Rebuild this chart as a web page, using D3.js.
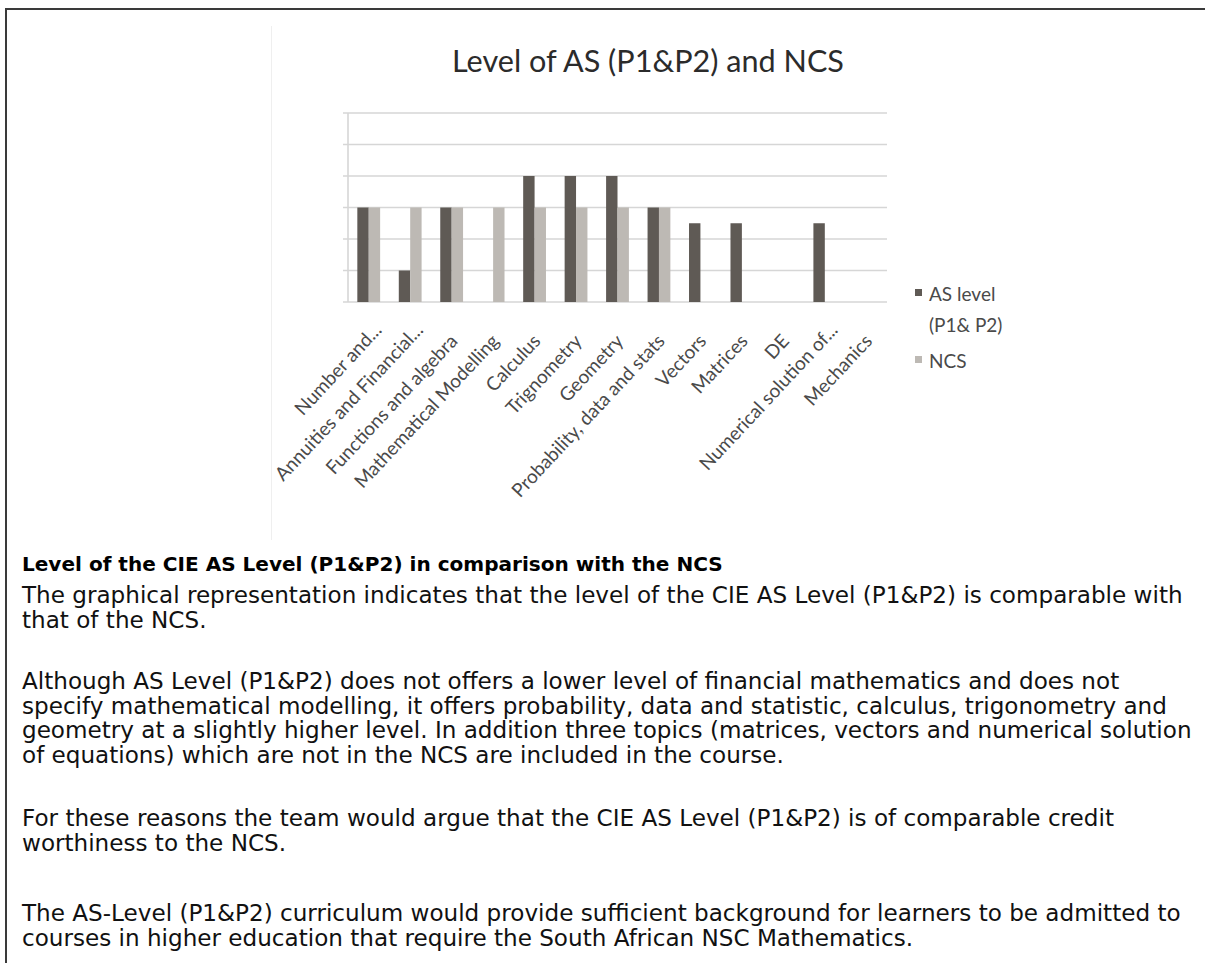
<!DOCTYPE html>
<html>
<head>
<meta charset="utf-8">
<script src="https://cdn.jsdelivr.net/npm/d3@7"></script>
<style>
  body { margin: 0; background: #fff; }
  svg { display: block; }
</style>
</head>
<body>
<script>
// chart data
var topics = ["Number and...", "Annuities and Financial...", "Functions and algebra",
  "Mathematical Modelling", "Calculus", "Trignometry", "Geometry",
  "Probability, data and stats", "Vectors", "Matrices", "DE",
  "Numerical solution of...", "Mechanics"];
var asLevel = [3, 1, 3, 0, 4, 4, 4, 3, 2.5, 2.5, 0, 2.5, 0];
var ncs     = [3, 3, 3, 3, 3, 3, 3, 3, 0, 0, 0, 0, 0];
var yTicks = [0, 1, 2, 3, 4, 5, 6];
var chartTitle = "Level of AS (P1&P2) and NCS";

// text under the chart
var heading = "Level of the CIE AS Level (P1&P2) in comparison with the NCS";
var bodyLines = [
  ["The graphical representation indicates that the level of the CIE AS Level (P1&P2) is comparable with",
   "that of the NCS."],
  ["Although AS Level (P1&P2) does not offers a lower level of financial mathematics and does not",
   "specify mathematical modelling, it offers probability, data and statistic, calculus, trigonometry and",
   "geometry at a slightly higher level. In addition three topics (matrices, vectors and numerical solution",
   "of equations) which are not in the NCS are included in the course."],
  ["For these reasons the team would argue that the CIE AS Level (P1&P2) is of comparable credit",
   "worthiness to the NCS."],
  ["The AS-Level (P1&P2) curriculum would provide sufficient background for learners to be admitted to",
   "courses in higher education that require the South African NSC Mathematics."]
];

var width = 1205, height = 963;
var chartFont = "Lato, 'Liberation Sans', sans-serif";
var bodyFont = "'DejaVu Sans', sans-serif";

var svg = d3.select("body").append("svg")
    .attr("width", width)
    .attr("height", height);

// page frame (left and top border)
svg.append("path")
    .attr("d", "M6,963V9H1205")
    .attr("fill", "none")
    .attr("stroke", "#3a3a3a")
    .attr("stroke-width", 2);

// faint edge of the pasted chart image
svg.append("line")
    .attr("x1", 271.5).attr("x2", 271.5)
    .attr("y1", 26).attr("y2", 540)
    .attr("stroke", "#efefef");

var x = d3.scaleBand()
    .domain(topics)
    .range([348, 887])
    .paddingInner(0.45)
    .paddingOuter(0.225);

var xs = d3.scaleBand()
    .domain(["as", "ncs"])
    .range([0, x.bandwidth()]);

var y = d3.scaleLinear()
    .domain([0, 6])
    .range([302, 113]);

// gridlines
svg.append("g").selectAll("line")
  .data(yTicks)
  .enter().append("line")
    .attr("x1", 343)
    .attr("x2", 887)
    .attr("y1", function(d) { return y(d); })
    .attr("y2", function(d) { return y(d); })
    .attr("stroke", "#d6d6d6")
    .attr("stroke-width", 1.6);

svg.append("line")
    .attr("x1", 348).attr("x2", 348)
    .attr("y1", y(6)).attr("y2", y(0))
    .attr("stroke", "#d6d6d6")
    .attr("stroke-width", 1.6);

var colors = {as: "#5f5a55", ncs: "#bdb9b4"};

svg.append("g").selectAll("rect")
  .data(topics.map(function(t, i) { return {t: t, v: asLevel[i]}; }))
  .enter().append("rect")
    .attr("x", function(d) { return x(d.t) + xs("as"); })
    .attr("y", function(d) { return y(d.v); })
    .attr("width", xs.bandwidth())
    .attr("height", function(d) { return y(0) - y(d.v); })
    .attr("fill", colors.as);

svg.append("g").selectAll("rect")
  .data(topics.map(function(t, i) { return {t: t, v: ncs[i]}; }))
  .enter().append("rect")
    .attr("x", function(d) { return x(d.t) + xs("ncs"); })
    .attr("y", function(d) { return y(d.v); })
    .attr("width", xs.bandwidth())
    .attr("height", function(d) { return y(0) - y(d.v); })
    .attr("fill", colors.ncs);

// category labels, rotated (the pasted image is a little stretched, so ~47deg)
// truncated ones sit a bit further out
svg.append("g").selectAll("text")
  .data(topics)
  .enter().append("text")
    .attr("transform", function(d) {
      var cx = x(d) + x.bandwidth() / 2;
      var cut = /\.\.\.$/.test(d);
      var dx = cut ? 14 : 7, dy = cut ? 29 : 40;
      return "translate(" + (cx + dx) + "," + (y(0) + dy) + ") rotate(-47)";
    })
    .attr("text-anchor", "end")
    .attr("font-family", chartFont)
    .attr("font-size", 19)
    .attr("fill", "#4a4a4a")
    .text(function(d) { return d; });

// title
var title = svg.append("text")
    .attr("x", 648)
    .attr("y", 72)
    .attr("text-anchor", "middle")
    .attr("font-family", chartFont)
    .attr("font-size", 30)
    .attr("fill", "#2b2b2b")
    .text(chartTitle);
var tw = title.node().getComputedTextLength();
title.attr("font-size", 30 * 392 / tw);

// legend
var legend = svg.append("g").attr("font-family", chartFont).attr("font-size", 19).attr("fill", "#4a4a4a");
legend.append("rect").attr("x", 915).attr("y", 289).attr("width", 7).attr("height", 7).attr("fill", colors.as);
legend.append("text").attr("x", 929).attr("y", 301).text("AS level");
legend.append("text").attr("x", 929).attr("y", 332).text("(P1& P2)");
legend.append("rect").attr("x", 915).attr("y", 356).attr("width", 7).attr("height", 7).attr("fill", colors.ncs);
legend.append("text").attr("x", 929).attr("y", 368).text("NCS");

// text block
var head = svg.append("text")
    .attr("x", 22)
    .attr("y", 571)
    .attr("font-family", bodyFont)
    .attr("font-weight", "bold")
    .attr("font-size", 18)
    .attr("fill", "#000")
    .text(heading);
head.attr("font-size", 18 * 701 / head.node().getComputedTextLength());

var probe = svg.append("text")
    .attr("font-family", bodyFont)
    .attr("font-size", 18)
    .text(bodyLines[0][0]);
var bodySize = 18 * 1161 / probe.node().getComputedTextLength();
probe.remove();

var paraStarts = [603, 689, 826, 921];
var lineGap = 24.5;
bodyLines.forEach(function(lines, p) {
  lines.forEach(function(line, i) {
    svg.append("text")
        .attr("x", 22)
        .attr("y", paraStarts[p] + i * lineGap)
        .attr("font-family", bodyFont)
        .attr("font-size", bodySize)
        .attr("fill", "#111")
        .text(line);
  });
});
</script>
</body>
</html>
